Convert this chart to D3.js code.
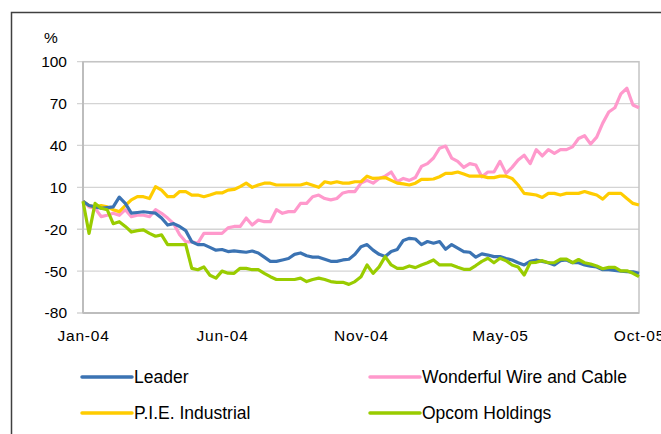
<!DOCTYPE html>
<html>
<head>
<meta charset="utf-8">
<script src="https://cdn.jsdelivr.net/npm/d3@7"></script>
<style>
  body { margin: 0; background: #fff; }
  svg { display: block; font-family: "Liberation Sans", Arial, sans-serif; }
</style>
</head>
<body>
<div id="chart"></div>
<script>
// weekly % change, Jan-04 .. Oct-05 (93 weeks)
const leader = [0, -3, -4, -5, -4.5, -4, 3, -1.5, -8.5, -8, -7.5, -8, -8.5, -12, -17, -16, -18, -21, -29, -31,
  -31, -33, -35, -34.5, -36, -35.5, -36, -36.5, -35.6, -37, -40, -43, -43, -42, -41, -38, -37, -39, -40, -40,
  -41.5, -43, -43, -42, -41.5, -38, -32.5, -31, -35, -38, -39.6, -36, -34.5, -28, -26.5, -27, -31, -28.8, -30, -28.8,
  -34.4, -31, -33.5, -36, -36.5, -40, -37.7, -38.5, -39.6, -39.6, -41, -42, -44, -45.6, -43, -42, -43, -44, -45.6, -42.5,
  -42, -44, -44, -45.6, -46.5, -47, -49, -49, -49.5, -50, -50.4, -50.5, -51.6];
const wonderful = [0, -4, -5, -11, -10, -8.6, -10, -6, -11, -10, -10, -11, -6, -8.6, -12, -16, -24, -29, -29, -30,
  -23, -23, -23, -23, -19, -18, -18, -12, -17, -13.4, -14.6, -14.6, -6, -8.6, -7.4, -7.4, -1.5, -1.5, 3.3, 4.5,
  2, 1, 2, 6, 7, 7, 13, 15, 13, 16.4, 18, 21, 14, 16.4, 15, 17, 25, 27, 31, 38,
  39.6, 31, 28.6, 24.3, 27, 26, 17.6, 21, 21, 28.6, 20, 24.3, 29.6, 33, 27, 37, 32.5, 37, 34.4, 37,
  37, 39, 45, 47, 41, 46, 56, 64, 67, 77, 81, 69, 67];
const pie = [0, -3, -4, -3, -4, -6, -7.4, -3, 1, 3.3, 3.3, 2, 10.5, 8, 3.3, 3.3, 7, 7, 4.5, 4.5,
  3.3, 4.5, 6, 6, 8, 8.5, 10.5, 13, 10, 11.7, 13, 13, 11.7, 11.7, 11.7, 11.7, 11.7, 13, 11.5, 10,
  14, 13, 14, 13, 13, 14, 14, 18, 16.4, 16.7, 17, 15, 13, 12.5, 11.7, 13, 15.7, 15.7, 16, 17.6,
  20, 20, 21, 19.5, 18, 18, 18, 17, 17, 18, 18, 16.4, 11.7, 5.7, 5.2, 4.5, 2.8, 5.7, 5.7, 4.5,
  5.7, 5.7, 5.7, 7, 5.7, 4.5, 1.6, 5.7, 5.7, 5.7, 2, -1.5, -2.6];
const opcom = [0, -23, -1.5, -5, -6, -16, -14.6, -18, -22, -21, -20.5, -23, -25, -24, -31, -31, -31, -31, -48, -49,
  -47, -53, -55, -50, -51.5, -51.6, -48, -48, -49, -49, -51.6, -54, -56, -56, -56, -56, -55, -57.5, -56, -55,
  -56, -57.5, -58, -58, -59.5, -57.5, -54, -45.6, -51.6, -47, -39.6, -45.6, -48, -48, -46.3, -47.5, -45.6, -44, -42, -45.6,
  -45.6, -45.6, -47.3, -48.7, -48.7, -46, -43, -40.8, -44, -40.8, -42.5, -45.6, -47, -52.8, -44, -43.7, -42.5, -44, -44, -41.4,
  -41.4, -44, -41.7, -44, -44.9, -46.3, -48.3, -47.3, -47.3, -49.8, -49.8, -51.6, -54];

const seriesNames = ['Leader', 'Wonderful Wire and Cable', 'P.I.E. Industrial', 'Opcom Holdings'];
const seriesColors = ['#3B73B3', '#FF99CC', '#FFCC00', '#99CC00'];
const tickWeeks = [0, 23, 46, 69, 92];
const tickLabels = ['Jan-04', 'Jun-04', 'Nov-04', 'May-05', 'Oct-05'];
const yTicks = [-80, -50, -20, 10, 40, 70, 100];

const width = 661, height = 434;
const svg = d3.select('#chart').append('svg').attr('width', width).attr('height', height);

// outer frame (clipped at right/bottom)
svg.append('rect').attr('x', 11.5).attr('y', 12.5).attr('width', 700).attr('height', 500)
  .attr('fill', 'none').attr('stroke', '#404040').attr('stroke-width', 1.5);

const x = d3.scaleLinear().domain([0, 92]).range([83, 639]);
const y = d3.scaleLinear().domain([-80, 100]).range([313, 61.7]);

// gridlines
svg.append('g').selectAll('line').data(yTicks).enter().append('line')
  .attr('x1', 77).attr('x2', 639)
  .attr('y1', d => y(d)).attr('y2', d => y(d))
  .attr('stroke', '#D4D4D4').attr('stroke-width', 1.3);

// plot border
svg.append('rect').attr('x', x(0)).attr('y', y(100)).attr('width', x(92) - x(0)).attr('height', y(-80) - y(100))
  .attr('fill', 'none').attr('stroke', '#C4C4C4').attr('stroke-width', 1.5);
svg.append('line').attr('x1', x(0)).attr('x2', x(0)).attr('y1', y(100)).attr('y2', y(-80))
  .attr('stroke', '#BDBDBD').attr('stroke-width', 2);
svg.append('line').attr('x1', x(0)).attr('x2', x(92)).attr('y1', y(-80)).attr('y2', y(-80))
  .attr('stroke', '#BDBDBD').attr('stroke-width', 2);

// y labels (plain hyphen for negatives, like the original)
const yAxis = d3.axisLeft(y).tickValues(yTicks).tickFormat(d => String(d)).tickSize(0).tickPadding(16);
const gy = svg.append('g').attr('transform', `translate(${x(0)},0)`).call(yAxis);
gy.select('.domain').remove();
gy.selectAll('text').attr('font-size', 15.5).attr('fill', '#000').attr('font-family', '"Liberation Sans", Arial, sans-serif');

svg.append('text').attr('x', 44).attr('y', 43).attr('font-size', 15.5).text('%');

// x labels
const xAxis = d3.axisBottom(x).tickValues(tickWeeks).tickFormat((d, i) => tickLabels[i]).tickSize(0).tickPadding(17);
const gx = svg.append('g').attr('transform', `translate(0,${y(-80)})`).call(xAxis);
gx.select('.domain').remove();
gx.selectAll('text').attr('font-size', 15.5).attr('fill', '#000').attr('letter-spacing', '0.8px')
  .attr('font-family', '"Liberation Sans", Arial, sans-serif');

// lines
const allSeries = [leader, wonderful, pie, opcom];
const line = d3.line().x((d, i) => x(i)).y(d => y(d));
const drawOrder = [1, 2, 0, 3];
drawOrder.forEach(k => {
  svg.append('path').datum(allSeries[k])
    .attr('d', line)
    .attr('fill', 'none')
    .attr('stroke', seriesColors[k])
    .attr('stroke-width', 3.2)
    .attr('stroke-linejoin', 'round');
});

// legend
const legendPos = [[82, 377], [370, 377], [82, 413], [370, 413]];
seriesNames.forEach((name, k) => {
  const [lx, ly] = legendPos[k];
  svg.append('line').attr('x1', lx).attr('x2', lx + 50).attr('y1', ly).attr('y2', ly)
    .attr('stroke', seriesColors[k]).attr('stroke-width', 3.5).attr('stroke-linecap', 'round');
  svg.append('text').attr('x', lx + 52).attr('y', ly + 6).attr('font-size', 17.5)
    .attr('fill', '#000').text(name);
});
</script>
</body>
</html>
